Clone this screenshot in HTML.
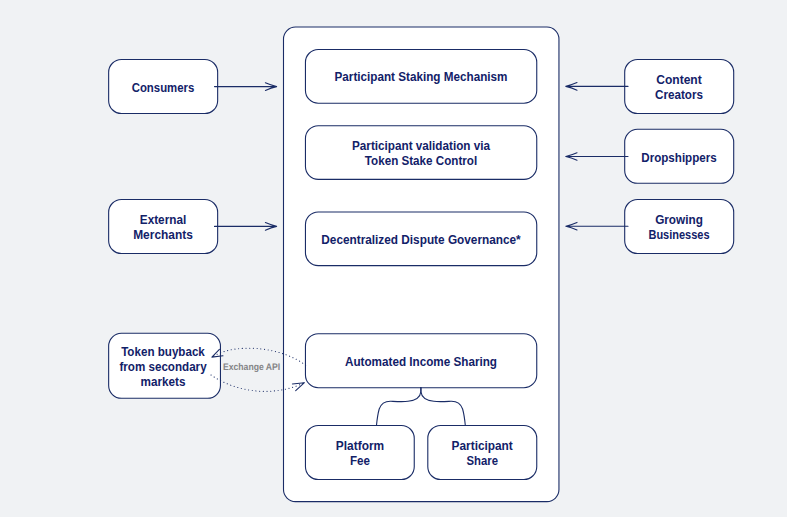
<!DOCTYPE html>
<html lang="en">
<head>
<meta charset="utf-8">
<title>Token Ecosystem Diagram</title>
<style>
  html, body { margin: 0; padding: 0; background: #f0f2f4; }
  body { width: 787px; height: 517px; overflow: hidden; }
  svg { display: block; }
  .box { fill: #ffffff; stroke: #1a2c66; stroke-width: 1.1; }
  .ln { fill: none; stroke: #1a2c66; stroke-width: 1.1; stroke-linecap: round; stroke-linejoin: round; }
  .dot { fill: none; stroke: #1a2c66; stroke-width: 1.1; stroke-linecap: round; stroke-dasharray: 0.1 3.6; }
  text { font-family: "Liberation Sans", sans-serif; font-weight: 700; font-size: 12.5px; fill: #122168; text-anchor: middle; }
  text.api { font-size: 9.6px; fill: #858587; text-rendering: geometricPrecision; }
</style>
</head>
<body>
<svg xmlns="http://www.w3.org/2000/svg" width="787" height="517" viewBox="0 0 787 517">
  <rect x="0" y="0" width="787" height="517" fill="#f0f2f4"/>

  <!-- main container -->
  <rect class="box" x="283.5" y="27" width="275.45" height="474.6" rx="12" ry="12"/>

  <!-- centre boxes -->
  <rect class="box" x="305.45" y="49.5" width="231.3" height="53.7" rx="12.8" ry="12.8"/>
  <rect class="box" x="305.45" y="125.7" width="231.3" height="53.7" rx="12.8" ry="12.8"/>
  <rect class="box" x="305.45" y="211.95" width="231.3" height="53.7" rx="12.8" ry="12.8"/>
  <rect class="box" x="305.45" y="333.7" width="231.3" height="54" rx="12.8" ry="12.8"/>
  <rect class="box" x="305.45" y="425.5" width="108.8" height="54" rx="12.8" ry="12.8"/>
  <rect class="box" x="427.8" y="425.5" width="108.95" height="54" rx="12.8" ry="12.8"/>

  <!-- left boxes -->
  <rect class="box" x="108.65" y="59.5" width="109" height="54" rx="12.8" ry="12.8"/>
  <rect class="box" x="108.65" y="199.5" width="109" height="54" rx="12.8" ry="12.8"/>
  <rect class="box" x="108.65" y="333.3" width="111.8" height="65" rx="12.8" ry="12.8"/>

  <!-- right boxes -->
  <rect class="box" x="624.7" y="59.5" width="109" height="54" rx="12.8" ry="12.8"/>
  <rect class="box" x="624.7" y="129.3" width="109" height="54" rx="12.8" ry="12.8"/>
  <rect class="box" x="624.7" y="199.5" width="109" height="54" rx="12.8" ry="12.8"/>

  <!-- left arrows -->
  <path class="ln" d="M214.5 86.6 H276 M265.4 82.8 Q271.2 85.3 276.6 86.6 Q271.2 87.9 265.4 90.4"/>
  <path class="ln" d="M214.5 226.4 H276 M265.4 222.6 Q271.2 225.1 276.6 226.4 Q271.2 227.7 265.4 230.2"/>

  <!-- right arrows -->
  <path class="ln" d="M628 86.4 H566.4 M577 82.6 Q571.2 85.1 565.8 86.4 Q571.2 87.7 577 90.2"/>
  <path class="ln" d="M628 156.5 H566.4 M577 152.7 Q571.2 155.2 565.8 156.5 Q571.2 157.8 577 160.3"/>
  <path class="ln" d="M628 226.2 H566.4 M577 222.4 Q571.2 224.9 565.8 226.2 Q571.2 227.5 577 230.0"/>

  <!-- dotted exchange curves -->
  <path class="dot" d="M305.6 365.2 L304.4 364.4 C283.6 348.6 237.4 341.1 211.9 357.1"/>
  <path class="ln" d="M219.4 349.3 L211.9 357.1 L223 355.7"/>
  <path class="dot" d="M211 375 C238.8 394.1 276.7 396.2 304.4 382.7"/>
  <path class="ln" d="M292.4 384 L304.4 382.7 L295.7 390.7"/>

  <!-- brace connector -->
  <path class="ln" d="M420.9 387.6 L420.9 391.5 C420.3 397.5 416 400.5 408 401.3 C403 401.9 398 401.6 391 401.3 C385.5 401.1 381.3 403 379.2 409 C377.8 414 377 420 376.5 425.3"/>
  <path class="ln" d="M420.9 387.6 L420.9 391.5 C421.5 397.5 425.8 400.5 433.8 401.3 C438.8 401.9 443.8 401.6 450.8 401.3 C456.3 401.1 460.5 403 462.6 409 C464.0 414 464.8 420 465.3 425.3"/>

  <!-- labels -->
  <text x="421" y="80.7" textLength="172.9" lengthAdjust="spacingAndGlyphs">Participant Staking Mechanism</text>
  <text x="421" y="149.5" textLength="138.0" lengthAdjust="spacingAndGlyphs">Participant validation via</text>
  <text x="421" y="164.5" textLength="112.3" lengthAdjust="spacingAndGlyphs">Token Stake Control</text>
  <text x="421" y="243.5" textLength="199.4" lengthAdjust="spacingAndGlyphs">Decentralized Dispute Governance*</text>
  <text x="421" y="365.7" textLength="152.0" lengthAdjust="spacingAndGlyphs">Automated Income Sharing</text>
  <text x="360" y="449.7" textLength="48.3" lengthAdjust="spacingAndGlyphs">Platform</text>
  <text x="360" y="464.5" textLength="20.0" lengthAdjust="spacingAndGlyphs">Fee</text>
  <text x="482.2" y="449.7" textLength="61.2" lengthAdjust="spacingAndGlyphs">Participant</text>
  <text x="482.2" y="464.5" textLength="31.5" lengthAdjust="spacingAndGlyphs">Share</text>

  <text x="163" y="91.5" textLength="62.6" lengthAdjust="spacingAndGlyphs">Consumers</text>
  <text x="163" y="223.5" textLength="46.4" lengthAdjust="spacingAndGlyphs">External</text>
  <text x="163" y="238.5" textLength="59.6" lengthAdjust="spacingAndGlyphs">Merchants</text>
  <text x="163" y="355.5" textLength="83.7" lengthAdjust="spacingAndGlyphs">Token buyback</text>
  <text x="163" y="370.5" textLength="87.2" lengthAdjust="spacingAndGlyphs">from secondary</text>
  <text x="163" y="385.5" textLength="44.9" lengthAdjust="spacingAndGlyphs">markets</text>

  <text x="679" y="83.5" textLength="45.5" lengthAdjust="spacingAndGlyphs">Content</text>
  <text x="679" y="98.5" textLength="47.9" lengthAdjust="spacingAndGlyphs">Creators</text>
  <text x="679" y="162" textLength="75.4" lengthAdjust="spacingAndGlyphs">Dropshippers</text>
  <text x="679" y="223.5" textLength="47.7" lengthAdjust="spacingAndGlyphs">Growing</text>
  <text x="679" y="238.5" textLength="61.1" lengthAdjust="spacingAndGlyphs">Businesses</text>

  <text class="api" x="251.6" y="369.7" textLength="57.2" lengthAdjust="spacingAndGlyphs">Exchange API</text>
</svg>
</body>
</html>
